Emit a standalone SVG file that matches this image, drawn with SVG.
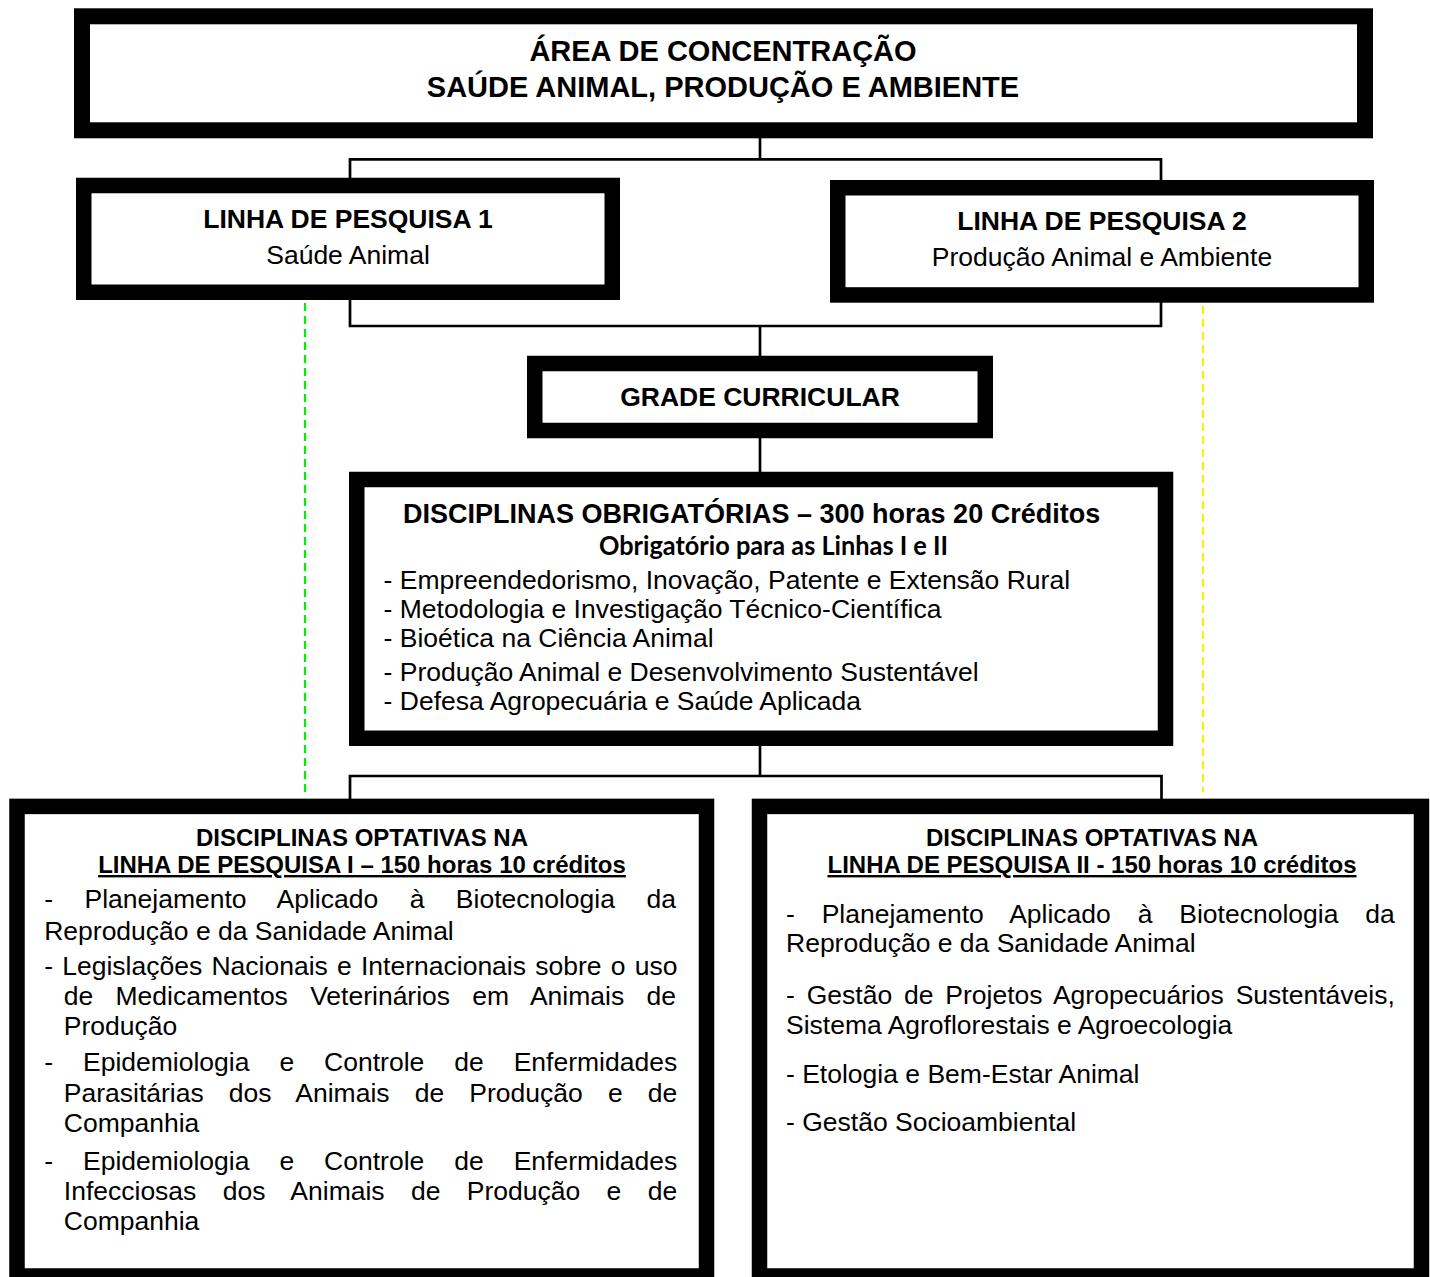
<svg xmlns="http://www.w3.org/2000/svg" width="1430" height="1277" viewBox="0 0 1430 1277">
<style>
.box{fill:#fff;stroke:#000;stroke-width:15.5}
.con{fill:none;stroke:#000;stroke-width:2.7}
.dash{fill:none;stroke-width:2.2;stroke-dasharray:8 5}
.t{font-family:"Liberation Sans",Arial,sans-serif;font-size:26.5px;fill:#000}
.b{font-weight:bold}
.c{text-anchor:middle}
.h{font-size:24px;font-weight:bold;text-anchor:middle}
.u{text-decoration:underline}
.cal{font-family:Lato,"Open Sans",sans-serif;font-weight:bold;font-size:27px}
</style>
<rect width="1430" height="1277" fill="#fff"/>
<g id="connectors">
<path class="con" d="M760 138 V159.3 M350 178 V159.3 H1161 V180"/>
<path class="con" d="M350 300 V326 H1161 V302 M760 326 V357"/>
<path class="con" d="M760 438 V473"/>
<path class="con" d="M760 745 V776 M350 799 V776 H1161.5 V799"/>
<line class="dash" x1="305" y1="303" x2="305" y2="792" stroke="#00f000"/>
<line class="dash" x1="1203" y1="306" x2="1203" y2="792" stroke="#ffee00"/>
</g>
<g id="area">
<rect class="box" x="82" y="16.3" width="1283" height="114" style="stroke-width:16"/>
<text class="t b c" x="723" y="61" style="font-size:29px">ÁREA DE CONCENTRAÇÃO</text>
<text class="t b c" x="723" y="97" style="font-size:29px">SAÚDE ANIMAL, PRODUÇÃO E AMBIENTE</text>
</g>
<g id="linha1">
<rect class="box" x="83.75" y="185.5" width="528.5" height="106.75"/>
<text class="t b c" x="348" y="228">LINHA DE PESQUISA 1</text>
<text class="t c" x="348" y="264">Saúde Animal</text>
</g>
<g id="linha2">
<rect class="box" x="837.75" y="187.75" width="528.5" height="107.2"/>
<text class="t b c" x="1102" y="230">LINHA DE PESQUISA 2</text>
<text class="t c" x="1102" y="266">Produção Animal e Ambiente</text>
</g>
<g id="grade">
<rect class="box" x="534.75" y="363.5" width="450.5" height="67"/>
<text class="t b c" x="760" y="406">GRADE CURRICULAR</text>
</g>
<g id="obrigatorias">
<rect class="box" x="356.75" y="479.5" width="808.75" height="258.75"/>
<text class="t b" x="403" y="523" style="font-size:27px">DISCIPLINAS OBRIGATÓRIAS – 300 horas 20 Créditos</text>
<text class="cal" x="599" y="555" textLength="349" lengthAdjust="spacingAndGlyphs">Obrigatório para as Linhas I e II</text>
<text class="t" x="383.6" y="588.5">- Empreendedorismo, Inovação, Patente e Extensão Rural</text>
<text class="t" x="383.6" y="617.5">- Metodologia e Investigação Técnico-Científica</text>
<text class="t" x="383.6" y="647">- Bioética na Ciência Animal</text>
<text class="t" x="383.6" y="681">- Produção Animal e Desenvolvimento Sustentável</text>
<text class="t" x="383.6" y="710">- Defesa Agropecuária e Saúde Aplicada</text>
</g>
<g id="optativas1">
<rect class="box" x="17" y="806.4" width="689.5" height="469.6"/>
<text class="t h" x="362" y="846">DISCIPLINAS OPTATIVAS NA</text>
<text class="t h u" x="362" y="873">LINHA DE PESQUISA I – 150 horas 10 créditos</text>
<text class="t" x="44.2" y="908.3" word-spacing="24.1">- Planejamento Aplicado à Biotecnologia da</text>
<text class="t" x="44.2" y="940">Reprodução e da Sanidade Animal</text>
<text class="t" x="44.2" y="975" word-spacing="1.87">- Legislações Nacionais e Internacionais sobre o uso</text>
<text class="t" x="63.8" y="1005" word-spacing="14.9">de Medicamentos Veterinários em Animais de</text>
<text class="t" x="63.8" y="1035">Produção</text>
<text class="t" x="44.2" y="1071" word-spacing="22.6">- Epidemiologia e Controle de Enfermidades</text>
<text class="t" x="63.8" y="1101.5" word-spacing="17.8">Parasitárias dos Animais de Produção e de</text>
<text class="t" x="63.8" y="1132">Companhia</text>
<text class="t" x="44.2" y="1169.5" word-spacing="22.6">- Epidemiologia e Controle de Enfermidades</text>
<text class="t" x="63.8" y="1200" word-spacing="19">Infecciosas dos Animais de Produção e de</text>
<text class="t" x="63.8" y="1230">Companhia</text>
</g>
<g id="optativas2">
<rect class="box" x="759.5" y="806.4" width="662" height="469.6"/>
<text class="t h" x="1092" y="846">DISCIPLINAS OPTATIVAS NA</text>
<text class="t h u" x="1092" y="873">LINHA DE PESQUISA II - 150 horas 10 créditos</text>
<text class="t" x="786" y="923" word-spacing="19.5">- Planejamento Aplicado à Biotecnologia da</text>
<text class="t" x="786" y="952">Reprodução e da Sanidade Animal</text>
<text class="t" x="786" y="1004" word-spacing="4.5">- Gestão de Projetos Agropecuários Sustentáveis,</text>
<text class="t" x="786" y="1033.5">Sistema Agroflorestais e Agroecologia</text>
<text class="t" x="786" y="1083">- Etologia e Bem-Estar Animal</text>
<text class="t" x="786" y="1131">- Gestão Socioambiental</text>
</g>
</svg>
